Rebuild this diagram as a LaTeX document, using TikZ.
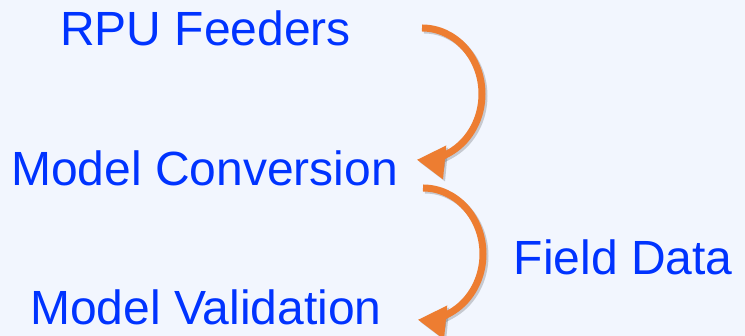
\documentclass[tikz,border=0pt]{standalone}
\usepackage{fontspec}
\setmainfont{Liberation Sans}
\usetikzlibrary{arrows.meta}
\definecolor{bgc}{HTML}{F2F6FE}
\definecolor{txtblue}{HTML}{0033FF}
\definecolor{arrorange}{HTML}{ED7D31}
\tikzset{
  lbl/.style={anchor=base west, inner sep=0pt, text=txtblue, font=\fontsize{48}{56}\selectfont},
  curvarrow/.style={draw=arrorange, line width=7pt, -{Triangle[length=28pt,width=32pt]}},
  curvshadow/.style={draw=black, opacity=0.18, line width=7pt, -{Triangle[length=28pt,width=32pt]}}
}
\begin{document}
\begin{tikzpicture}[x=1pt,y=1pt]
\useasboundingbox (0,0) rectangle (745,336);
\fill[bgc] (0,0) rectangle (745,336);
\node[lbl] (rpu) at (60,290) {RPU Feeders};
\node[lbl] (conv) at (11,150) {Model Conversion};
\node[lbl] (valid) at (30,11) {Model Validation};
\node[lbl] (field) at (513.5,61) {Field Data};
\coordinate (a1) at (422,308);
\coordinate (a2) at (423,148);
\draw[curvshadow] ([shift={(2,-2)}]a1) arc[start angle=90, end angle=-95, x radius=60, y radius=66];
\draw[curvarrow] (a1) arc[start angle=90, end angle=-95, x radius=60, y radius=66];
\draw[curvshadow] ([shift={(2,-2)}]a2) arc[start angle=90, end angle=-95, x radius=60, y radius=66];
\draw[curvarrow] (a2) arc[start angle=90, end angle=-95, x radius=60, y radius=66];
\end{tikzpicture}
\end{document}
